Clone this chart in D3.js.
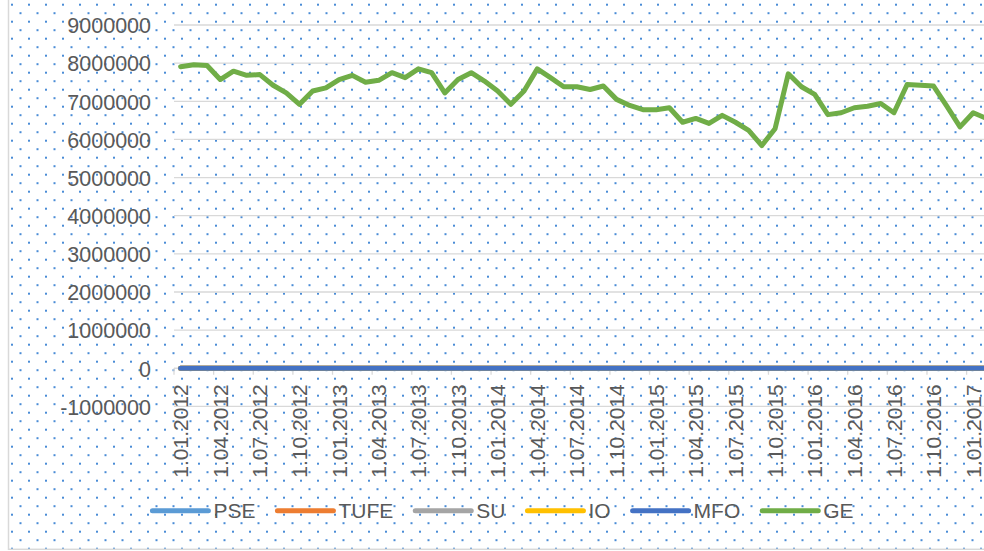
<!DOCTYPE html>
<html>
<head>
<meta charset="utf-8">
<script src="https://cdn.jsdelivr.net/npm/d3@7"></script>
<style>
  html, body { margin: 0; padding: 0; background: #ffffff; overflow: hidden; }
  svg { display: block; }
  text { font-family: "Liberation Sans", Arial, sans-serif; fill: #595959; }
</style>
</head>
<body>
<div id="chart"></div>
<script>
// ---------- DATA ----------
const categories = [
  "1.01.2012","1.02.2012","1.03.2012","1.04.2012","1.05.2012","1.06.2012","1.07.2012","1.08.2012","1.09.2012","1.10.2012","1.11.2012","1.12.2012",
  "1.01.2013","1.02.2013","1.03.2013","1.04.2013","1.05.2013","1.06.2013","1.07.2013","1.08.2013","1.09.2013","1.10.2013","1.11.2013","1.12.2013",
  "1.01.2014","1.02.2014","1.03.2014","1.04.2014","1.05.2014","1.06.2014","1.07.2014","1.08.2014","1.09.2014","1.10.2014","1.11.2014","1.12.2014",
  "1.01.2015","1.02.2015","1.03.2015","1.04.2015","1.05.2015","1.06.2015","1.07.2015","1.08.2015","1.09.2015","1.10.2015","1.11.2015","1.12.2015",
  "1.01.2016","1.02.2016","1.03.2016","1.04.2016","1.05.2016","1.06.2016","1.07.2016","1.08.2016","1.09.2016","1.10.2016","1.11.2016","1.12.2016",
  "1.01.2017","1.02.2017"
];

const PSE  = [0,0,0,0,0,0,0,0,0,0,0,0, 0,0,0,0,0,0,0,0,0,0,0,0, 0,0,0,0,0,0,0,0,0,0,0,0, 0,0,0,0,0,0,0,0,0,0,0,0, 0,0,0,0,0,0,0,0,0,0,0,0, 0,0];
const TUFE = [0,0,0,0,0,0,0,0,0,0,0,0, 0,0,0,0,0,0,0,0,0,0,0,0, 0,0,0,0,0,0,0,0,0,0,0,0, 0,0,0,0,0,0,0,0,0,0,0,0, 0,0,0,0,0,0,0,0,0,0,0,0, 0,0];
const SU   = [0,0,0,0,0,0,0,0,0,0,0,0, 0,0,0,0,0,0,0,0,0,0,0,0, 0,0,0,0,0,0,0,0,0,0,0,0, 0,0,0,0,0,0,0,0,0,0,0,0, 0,0,0,0,0,0,0,0,0,0,0,0, 0,0];
const IO   = [0,0,0,0,0,0,0,0,0,0,0,0, 0,0,0,0,0,0,0,0,0,0,0,0, 0,0,0,0,0,0,0,0,0,0,0,0, 0,0,0,0,0,0,0,0,0,0,0,0, 0,0,0,0,0,0,0,0,0,0,0,0, 0,0];
const MFO  = [0,0,0,0,0,0,0,0,0,0,0,0, 0,0,0,0,0,0,0,0,0,0,0,0, 0,0,0,0,0,0,0,0,0,0,0,0, 0,0,0,0,0,0,0,0,0,0,0,0, 0,0,0,0,0,0,0,0,0,0,0,0, 0,0];
const GE = [
  7906000,7958000,7940000,7570000,7790000,7680000,7700000,7420000,7220000,6920000,7270000,7350000,
  7570000,7680000,7500000,7550000,7750000,7620000,7850000,7750000,7220000,7570000,7750000,7530000,
  7270000,6920000,7270000,7850000,7620000,7380000,7380000,7310000,7400000,7050000,6890000,6780000,
  6780000,6830000,6450000,6550000,6420000,6630000,6450000,6240000,5840000,6280000,7720000,7380000,
  7180000,6650000,6700000,6830000,6870000,6940000,6700000,7440000,7420000,7400000,6870000,6330000,
  6700000,6550000
];

const seriesNames  = ["PSE","TUFE","SU","IO","MFO","GE"];
const seriesValues = [PSE, TUFE, SU, IO, MFO, GE];
const seriesColors = ["#5B9BD5","#ED7D31","#A5A5A5","#FFC000","#4472C4","#70AD47"];

const yTicks = [-1000000,0,1000000,2000000,3000000,4000000,5000000,6000000,7000000,8000000,9000000];

// ---------- LAYOUT ----------
const W = 984, H = 551;
const plotLeft = 174, plotTop = 25, plotBottom = 406.4;
const bandW = 13.21;

const svg = d3.select("#chart").append("svg").attr("width", W).attr("height", H);

// dotted pattern background
const defs = svg.append("defs");
const pat = defs.append("pattern").attr("id", "dots")
  .attr("patternUnits", "userSpaceOnUse").attr("x", 0).attr("y", 0)
  .attr("width", 17).attr("height", 17);
pat.append("rect").attr("x", 11).attr("y", 3.7).attr("width", 2).attr("height", 2).attr("fill", "#4a8cd6");
pat.append("rect").attr("x", 2.5).attr("y", 12.2).attr("width", 2).attr("height", 2).attr("fill", "#4a8cd6");

svg.append("rect").attr("x", 8.5).attr("y", -10).attr("width", 1000).attr("height", 559.3)
  .attr("fill", "url(#dots)").attr("stroke", "#d9d9d9").attr("stroke-width", 1.5);

// scales
const x = d3.scaleBand().domain(categories)
  .range([plotLeft, plotLeft + bandW * categories.length]).paddingInner(0).paddingOuter(0);
const y = d3.scaleLinear().domain([-1000000, 9000000]).range([plotBottom, plotTop]);
const cx = d => x(d) + x.bandwidth() / 2;

// gridlines
svg.append("g").selectAll("line").data(yTicks.filter(v => v !== 0)).join("line")
  .attr("x1", plotLeft).attr("x2", plotLeft + bandW * categories.length)
  .attr("y1", d => y(d)).attr("y2", d => y(d))
  .attr("stroke", "#d9d9d9").attr("stroke-width", 1.3);

// y axis labels
const yAxis = d3.axisLeft(y).tickValues(yTicks).tickFormat(d => String(d)).tickSize(0).tickPadding(0);
const gy = svg.append("g").attr("transform", `translate(${plotLeft - 23},0)`).call(yAxis);
gy.select(".domain").remove();
gy.selectAll("text").attr("font-size", 21.5).attr("fill", "#595959")
  .attr("font-family", '"Liberation Sans", Arial, sans-serif').attr("dy", "0.36em");

// category axis at zero
const y0 = y(0);
svg.append("line").attr("x1", plotLeft).attr("x2", plotLeft + bandW * categories.length)
  .attr("y1", y0).attr("y2", y0).attr("stroke", "#d9d9d9").attr("stroke-width", 1.3);
const tickCats = categories.filter((d, i) => i % 3 === 0);
svg.append("g").selectAll("line").data(tickCats).join("line")
  .attr("x1", d => x(d)).attr("x2", d => x(d))
  .attr("y1", y0).attr("y2", y0 + 6.5)
  .attr("stroke", "#d9d9d9").attr("stroke-width", 1.3);

// x labels (rotated)
svg.append("g").selectAll("text").data(tickCats).join("text")
  .attr("transform", d => `translate(${cx(d)},${y0 + 16}) rotate(-90)`)
  .attr("text-anchor", "end").attr("dy", "0.36em")
  .attr("font-size", 21).text(d => d);

// series lines
const line = d3.line().x((v, i) => cx(categories[i])).y(v => y(v));
svg.append("g").selectAll("path").data(seriesValues).join("path")
  .attr("d", d => line(d))
  .attr("fill", "none")
  .attr("stroke", (d, i) => seriesColors[i])
  .attr("stroke-width", 5)
  .attr("stroke-linejoin", "round").attr("stroke-linecap", "round");

// legend
const legY = 510.7;
const leg = svg.append("g");
const items = leg.selectAll("g").data(seriesNames).join("g");
items.append("line").attr("x1", 0).attr("x2", 56).attr("y1", 0).attr("y2", 0)
  .attr("stroke", (d, i) => seriesColors[i]).attr("stroke-width", 5).attr("stroke-linecap", "round");
items.append("text").attr("x", 61).attr("dy", "0.36em").attr("font-size", 21).text(d => d);
let widths = [];
items.each(function () { widths.push(61 + d3.select(this).select("text").node().getComputedTextLength()); });
const gap = 22;
const total = d3.sum(widths) + gap * (widths.length - 1);
let start = 503 - total / 2;
items.attr("transform", (d, i) => {
  const t = `translate(${start},${legY})`;
  start += widths[i] + gap;
  return t;
});
</script>
</body>
</html>
